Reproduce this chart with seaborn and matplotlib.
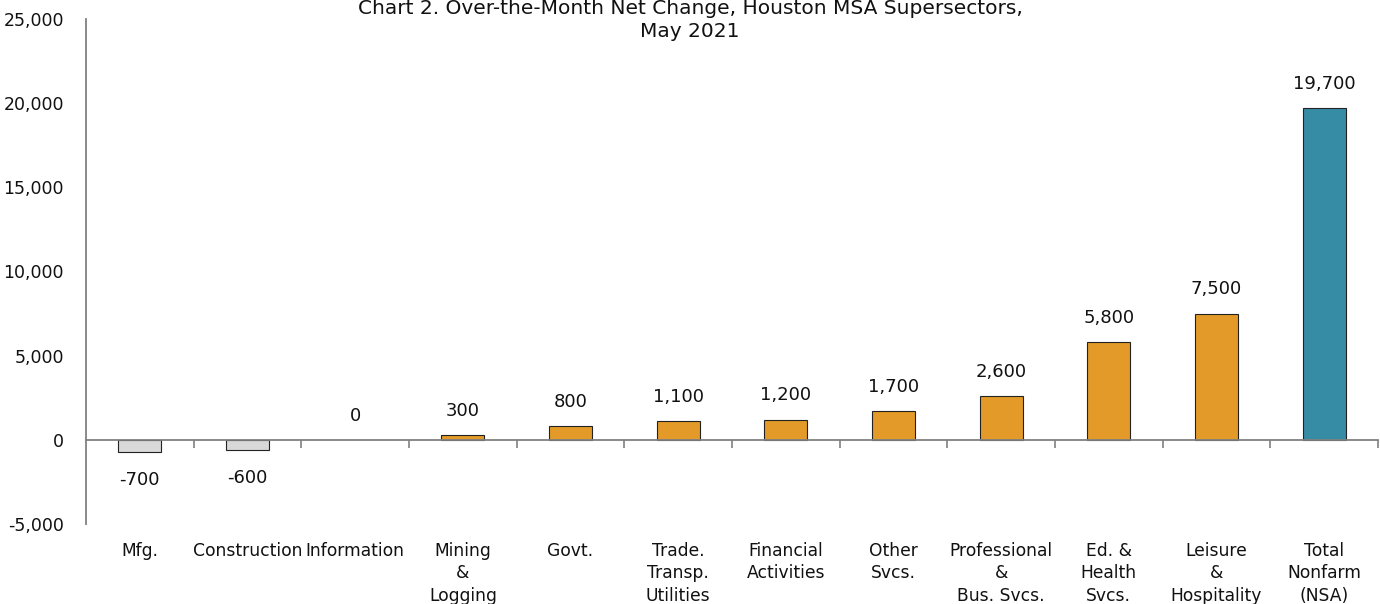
import matplotlib
matplotlib.use("Agg")
import matplotlib.pyplot as plt
import matplotlib.transforms as mtransforms
from matplotlib.ticker import FuncFormatter, FixedLocator
import seaborn as sns
import pandas as pd

categories = ["Mfg.", "Construction", "Information", "Mining\n&\nLogging", "Govt.",
              "Trade.\nTransp.\nUtilities", "Financial\nActivities", "Other\nSvcs.",
              "Professional\n&\nBus. Svcs.", "Ed. &\nHealth\nSvcs.", "Leisure\n&\nHospitality",
              "Total\nNonfarm\n(NSA)"]
net_change = [-700, -600, 0, 300, 800, 1100, 1200, 1700, 2600, 5800, 7500, 19700]
value_labels = ["-700", "-600", "0", "300", "800", "1,100", "1,200", "1,700", "2,600",
                "5,800", "7,500", "19,700"]
y_ticks = [-5000, 0, 5000, 10000, 15000, 20000, 25000]

GRAY = "#D9D9D9"
ORANGE = "#E39A28"
TEAL = "#368BA5"
colors = [GRAY if v < 0 else ORANGE for v in net_change]
colors[-1] = TEAL

sns.set_theme(style="white")
plt.rcParams["font.family"] = ["DejaVu Sans"]

df = pd.DataFrame({"sector": categories, "change": net_change})

fig = plt.figure(figsize=(13.8, 6.04), dpi=100)
ax = fig.add_axes([86 / 1380, 1 - 524 / 604, 1292 / 1380, 505 / 604])

sns.barplot(data=df, x="sector", y="change", hue="sector", palette=colors,
            legend=False, width=0.4, edgecolor="#222222", linewidth=0.8,
            saturation=1, ax=ax)

# a zero-height bar leaves no visible outline
for patch in ax.patches:
    if patch.get_height() == 0:
        patch.set_linewidth(0)

ax.set_xlim(-0.5, len(categories) - 0.5)
ax.set_ylim(-5000, 25000)
ax.set_xlabel("")
ax.set_ylabel("")

# value axis
ax.yaxis.set_major_locator(FixedLocator(y_ticks))
ax.yaxis.set_major_formatter(FuncFormatter(lambda v, p: f"{int(v):,}"))
ax.tick_params(axis="y", left=False, length=0, pad=16, labelsize=12.5, labelcolor="#111111")

# category axis line sits at zero, tick marks between categories
for s in ["top", "right"]:
    ax.spines[s].set_visible(False)
ax.spines["left"].set_color("#808080")
ax.spines["left"].set_linewidth(1.3)
ax.spines["bottom"].set_position(("data", 0))
ax.spines["bottom"].set_color("#808080")
ax.spines["bottom"].set_linewidth(1.3)
ax.set_xticks([i + 0.5 for i in range(len(categories))])
ax.set_xticklabels([])
ax.tick_params(axis="x", bottom=True, direction="out", length=6, width=1.2,
               color="#808080")

# category names below the plot area
trans = mtransforms.blended_transform_factory(ax.transData, ax.transAxes)
for i, name in enumerate(categories):
    ax.text(i, -0.036, name, transform=trans, ha="center", va="top",
            fontsize=12.3, color="#111111", linespacing=1.3)

# value labels
for i, (v, lab) in enumerate(zip(net_change, value_labels)):
    if v < 0:
        ax.annotate(lab, (i, v), xytext=(0, -14), textcoords="offset points",
                    ha="center", va="top", fontsize=13, color="#111111")
    else:
        ax.annotate(lab, (i, v), xytext=(0, 11), textcoords="offset points",
                    ha="center", va="bottom", fontsize=13, color="#111111")

fig.text(0.5, 1 - 20 / 604,
         "Chart 2. Over-the-Month Net Change, Houston MSA Supersectors,\nMay 2021",
         ha="center", va="center", fontsize=14.5, color="#111111", linespacing=1.25)

fig.savefig("out.png", dpi=100, facecolor="white")
